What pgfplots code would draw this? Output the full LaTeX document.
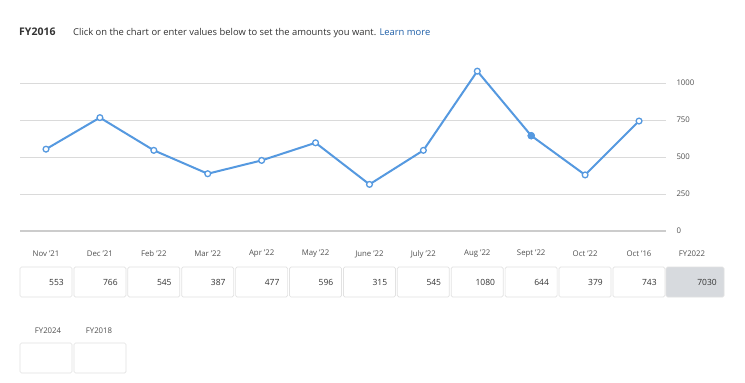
\documentclass[border=0pt]{standalone}
\usepackage{pgfplots}
\pgfplotsset{compat=1.18}
\usepackage{fontspec}
\setmainfont{Open Sans}
\definecolor{lineblue}{HTML}{5599E0}
\definecolor{gridgray}{HTML}{DADADA}
\definecolor{axisgray}{HTML}{CCCCCC}
\definecolor{boxgray}{HTML}{E2E2E2}
\definecolor{fillgray}{HTML}{D7DADE}
\definecolor{labelgray}{HTML}{505050}
\definecolor{valgray}{HTML}{333333}
\definecolor{linkblue}{HTML}{1F5FA8}
\begin{document}
\begin{tikzpicture}
\begin{scope}[x=1pt,y=-1pt]
\path[fill=white,use as bounding box] (0,0) rectangle (745,383);
\end{scope}
\begin{axis}[
  at={(20pt,-231pt)}, anchor=south west,
  scale only axis, width=646pt, height=170.2pt,
  xmin=-0.482, xmax=11.5, ymin=0, ymax=1150,
  clip=false,
  axis line style={draw=none},
  major tick length=0pt,
  ytick={0,250,500,750,1000},
  yticklabel pos=right,
  ymajorgrids, grid style={gridgray, line width=0.7pt},
  yticklabel style={anchor=west, xshift=7pt, font=\fontsize{7.8}{9}\selectfont, text=labelgray},
  /pgf/number format/assume math mode=true,
  /pgf/number format/1000 sep={},
  xtick={0,...,11},
  xticklabels={Nov '21,Dec '21,Feb '22,Mar '22,Apr '22,May '22,June '22,July '22,Aug '22,Sept '22,Oct '22,Oct '16},
  xticklabel style={anchor=center, yshift=-23pt, font=\fontsize{7.8}{9}\selectfont, text=labelgray},
]
\draw[axisgray, line width=1.6pt] (axis cs:-0.482,0) -- (axis cs:11.5,0);
\addplot[lineblue, line width=2pt, mark=*, mark size=2.9pt,
  mark options={fill=white, draw=lineblue, line width=1.3pt}] table {
x y
0 553
1 766
2 545
3 387
4 477
5 596
6 315
7 545
8 1080
9 644
10 379
11 743
};
\addplot[only marks, mark=*, mark size=3.5pt, lineblue] coordinates {(9,644)};
\end{axis}
\begin{scope}[x=1pt,y=-1pt]
\node[anchor=base west, inner sep=0, font=\fontsize{10.5}{12}\selectfont\bfseries, text=valgray] at (19,35) {FY2016};
\node[anchor=base west, inner sep=0, font=\fontsize{9.4}{11}\selectfont, text=valgray] at (73,35) {Click on the chart or enter values below to set the amounts you want. \textcolor{linkblue}{Learn more}};
\foreach \v [count=\i from 0] in {553,766,545,387,477,596,315,545,1080,644,379,743} {
  \pgfmathsetmacro\xl{20+53.9*\i}
  \draw[boxgray, line width=0.7pt, rounded corners=1.5pt] (\xl,267) rectangle (\xl+52,297);
  \node[anchor=east, inner sep=0, font=\fontsize{8.5}{10}\selectfont, text=valgray] at (\xl+44,282) {\v};
}
\node[font=\fontsize{7.8}{9}\selectfont, text=labelgray] at (692,254) {FY2022};
\draw[boxgray, fill=fillgray, line width=0.7pt, rounded corners=1.5pt] (666,267) rectangle (724,297);
\node[anchor=east, inner sep=0, font=\fontsize{8.5}{10}\selectfont, text=valgray] at (717,282) {7030};
\node[font=\fontsize{7.8}{9}\selectfont, text=labelgray] at (48,331) {FY2024};
\node[font=\fontsize{7.8}{9}\selectfont, text=labelgray] at (99,331) {FY2018};
\draw[boxgray, line width=0.7pt, rounded corners=1.5pt] (20,343) rectangle (72,373);
\draw[boxgray, line width=0.7pt, rounded corners=1.5pt] (74,343) rectangle (126,373);
\end{scope}
\end{tikzpicture}
\end{document}
